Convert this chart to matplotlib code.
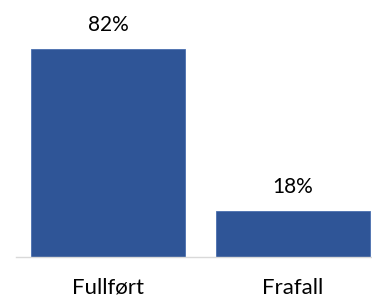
import matplotlib.pyplot as plt

categories = ['Fullført', 'Frafall']
values = [82, 18]
labels = ['82%', '18%']

plt.rcParams['font.family'] = ['Lato', 'DejaVu Sans']

fig = plt.figure(figsize=(3.72, 2.98), dpi=100)
ax = fig.add_axes([16 / 372, 41 / 298, 356 / 372, 257 / 298])

x = range(len(categories))
bars = ax.bar(x, values, width=0.834, color='#2F5597', edgecolor='#4A6FAF', linewidth=0.6)

for b, lab in zip(bars, labels):
    ax.annotate(lab, (b.get_x() + b.get_width() / 2, b.get_height()),
                xytext=(0, 10), textcoords='offset points',
                ha='center', va='bottom', fontsize=15, color='black')

ax.set_xlim(-0.5, 1.427)
ax.set_ylim(0, 257 / 2.54)
ax.set_xticks(list(x))
ax.set_xticklabels(categories, fontsize=16)
ax.tick_params(axis='x', length=0, pad=15)
ax.set_yticks([])
for s in ['top', 'right', 'left']:
    ax.spines[s].set_visible(False)
ax.spines['bottom'].set_color('#d9d9d9')
ax.spines['bottom'].set_linewidth(1)

fig.savefig('out.png', dpi=100)
